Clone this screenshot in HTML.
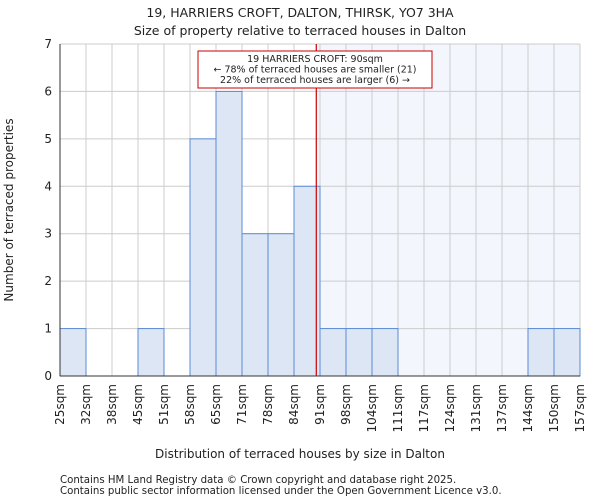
<!DOCTYPE html>
<html><head><meta charset="utf-8"><style>
body{margin:0;background:#fff;font-family:"DejaVu Sans","Liberation Sans",sans-serif;}
svg text{font-family:"DejaVu Sans","Liberation Sans",sans-serif;fill:#222;}
</style></head><body>
<svg id="c" width="600" height="500" xmlns="http://www.w3.org/2000/svg">
<text x="300" y="17" font-size="12.5" text-anchor="middle">19, HARRIERS CROFT, DALTON, THIRSK, YO7 3HA</text>
<text x="300" y="35" font-size="12.5" text-anchor="middle">Size of property relative to terraced houses in Dalton</text>
<g id="plot"></g>
<text x="300" y="458" font-size="12" text-anchor="middle">Distribution of terraced houses by size in Dalton</text>
<text transform="translate(13,210) rotate(-90)" font-size="12" text-anchor="middle">Number of terraced properties</text>
<text x="60" y="483" font-size="10.2">Contains HM Land Registry data © Crown copyright and database right 2025.</text>
<text x="60" y="494" font-size="10.2">Contains public sector information licensed under the Open Government Licence v3.0.</text>
</svg>
<script>
const binLabels=["25sqm","32sqm","38sqm","45sqm","51sqm","58sqm","65sqm","71sqm","78sqm","84sqm","91sqm","98sqm","104sqm","111sqm","117sqm","124sqm","131sqm","137sqm","144sqm","150sqm","157sqm"];
const counts=[1,0,0,1,0,5,6,3,3,4,1,1,1,0,0,0,0,0,1,1];
const yTicks=[0,1,2,3,4,5,6,7];
const markerBin=9.857;
const L=60,R=580,T=44,B=376,yMax=7;
const nb=counts.length,bw=(R-L)/nb;
const xs=i=>L+i*bw, ys=v=>B-(v/yMax)*(B-T);
const NS="http://www.w3.org/2000/svg",g=document.getElementById('plot');
function mk(t,a){const e=document.createElementNS(NS,t);for(const k in a)e.setAttribute(k,a[k]);g.appendChild(e);return e;}
const mx=xs(markerBin);
let e=mk('rect',{x:mx,y:T,width:R-mx,height:B-T,fill:'#f3f6fd'});


for(let i=0;i<=nb;i++){e=mk('line',{x1:xs(i),x2:xs(i),y1:T,y2:B,stroke:'#cccccc','stroke-width':1});

}
yTicks.forEach(v=>{e=mk('line',{x1:L,x2:R,y1:ys(v),y2:ys(v),stroke:'#cccccc','stroke-width':1});


e=mk('text',{x:L-8,y:ys(v)+4,'font-size':12,'text-anchor':'end'});e.textContent=v;

});
counts.forEach((c,i)=>{if(c>0){e=mk('rect',{x:xs(i),y:ys(c),width:bw,height:B-ys(c),fill:'#dde6f4',stroke:'#5b8bd4','stroke-width':1});

}});
binLabels.forEach((l,i)=>{const x=xs(i)+4;e=mk('text',{transform:`translate(${x},384) rotate(-90)`,'font-size':12,'text-anchor':'end'});e.textContent=l;

});
e=mk('line',{x1:L,x2:L,y1:T,y2:B,stroke:'#333'});


e=mk('line',{x1:L,x2:R,y1:B,y2:B,stroke:'#333'});


e=mk('line',{x1:mx,x2:mx,y1:T,y2:B,stroke:'#cc0000','stroke-width':1.2});


e=mk('rect',{x:198,y:51,width:234,height:37,fill:'#fff',stroke:'#cc0000','stroke-width':1});


["19 HARRIERS CROFT: 90sqm","← 78% of terraced houses are smaller (21)","22% of terraced houses are larger (6) →"].forEach((t,i)=>{
e=mk('text',{x:315,y:62+i*10.5,'font-size':9.5,'text-anchor':'middle'});e.textContent=t;

});
</script>
</body></html>
